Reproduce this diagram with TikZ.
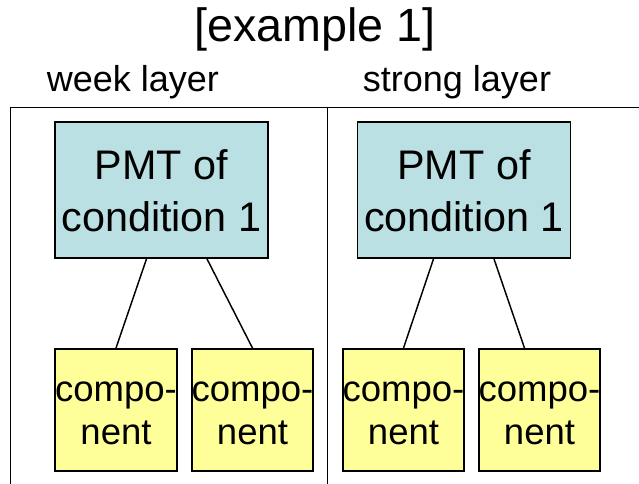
\documentclass[tikz,border=0pt]{standalone}
\usepackage{fontspec}
\setmainfont{Liberation Sans}
\usetikzlibrary{calc}

\definecolor{pmtfill}{HTML}{BBE0E3}
\definecolor{compfill}{HTML}{FFFF99}

\tikzset{
  frameline/.style={draw=black, line width=0.9pt},
  pmtbox/.style={draw=black, line width=1.4pt, fill=pmtfill,
    minimum width=213*0.75pt, minimum height=136*0.75pt,
    inner sep=0pt, align=center,
    font=\fontsize{31}{39}\selectfont},
  compbox/.style={draw=black, line width=1.4pt, fill=compfill,
    minimum width=121*0.75pt, minimum height=122*0.75pt,
    inner sep=0pt, align=center,
    font=\fontsize{27.4}{32.25}\selectfont},
  link/.style={draw=black, line width=1.1pt},
  heading/.style={anchor=base, inner sep=0pt,
    font=\fontsize{27}{32}\selectfont},
  title/.style={anchor=base, inner sep=0pt,
    font=\fontsize{35}{40}\selectfont}
}

\begin{document}
\begin{tikzpicture}[x=0.75pt, y=-0.75pt]
  \useasboundingbox (0,0) rectangle (639,484);

  % title and layer headings
  \node[title]   (ttl)  at (315,42) {[example 1]};
  \node[heading] (weak) at (133,92) {week layer};
  \node[heading] (strg) at (457,92) {strong layer};

  % frame separating the two layers
  \coordinate (fl) at (10.5,484);
  \coordinate (ftl) at (10.5,107.5);
  \coordinate (ftr) at (639,107.5);
  \coordinate (fmt) at (327.5,107.5);
  \coordinate (fmb) at (327.5,484);
  \draw[frameline] (fl) -- (ftl) -- (ftr);
  \draw[frameline] (fmt) -- (fmb);

  % week layer tree
  \node[pmtbox] (p1) at (161.5,190) {\rule{0pt}{24pt}PMT of\\condition 1};
  \node[compbox] (c1) at (116,410) {\rule{0pt}{20.25pt}compo-\\nent};
  \node[compbox] (c2) at (252.5,410) {\rule{0pt}{20.25pt}compo-\\nent};
  \draw[link] ($(p1.south)+(-15,0)$) -- (c1.north);
  \draw[link] ($(p1.south)+(45.5,0)$) -- (c2.north);

  % strong layer tree
  \node[pmtbox] (p2) at (464,190) {\rule{0pt}{24pt}PMT of\\condition 1};
  \node[compbox] (c3) at (403.5,410) {\rule{0pt}{20.25pt}compo-\\nent};
  \node[compbox] (c4) at (539.5,410) {\rule{0pt}{20.25pt}compo-\\nent};
  \draw[link] ($(p2.south)+(-30.5,0)$) -- (c3.north);
  \draw[link] ($(p2.south)+(30,0)$) -- ($(c4.north)+(-15,0)$);
\end{tikzpicture}
\end{document}
